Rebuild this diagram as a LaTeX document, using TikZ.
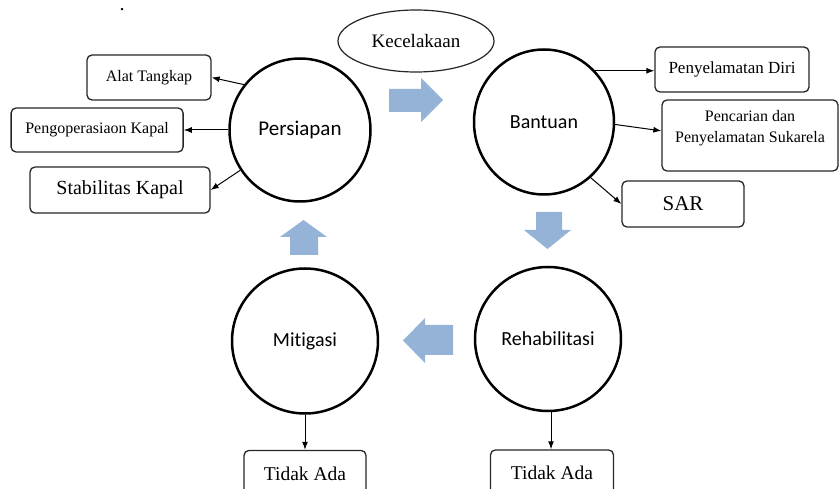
\documentclass[tikz,border=0pt]{standalone}
\usepackage{xcolor}
\usepackage{fontspec}
\setmainfont{Liberation Serif}
\newfontfamily\stagefont[Ligatures=NoCommon]{Carlito}
\usepackage{tikz}
\usetikzlibrary{arrows.meta,positioning,shapes.geometric}

\definecolor{flowblue}{RGB}{149,179,215}

\begin{document}
\begin{tikzpicture}[
    x=1pt, y=-1pt,
    box/.style={draw=black!85, rounded corners=5pt, line width=1.3pt, inner sep=3pt, align=center, font=\fontsize{16}{19}\selectfont},
    stage/.style={draw, ellipse, line width=2.5pt, inner sep=0pt, minimum width=144pt, minimum height=144pt, font=\stagefont\fontsize{20}{24}\selectfont},
    event/.style={draw=black!85, ellipse, line width=1.2pt, minimum width=156pt, minimum height=62pt, font=\fontsize{19}{23}\selectfont},
    arrow/.style={-{Latex[length=8pt,width=6pt]}, line width=1pt},
    flow/.style={fill=flowblue}
]
\useasboundingbox (0,0) rectangle (839,489);

\node[inner sep=0pt, font=\fontsize{20}{24}\selectfont] (dot) at (122,10) {.};

\node[event] (kecelakaan) at (416,41) {Kecelakaan};

\node[stage, minimum width=141pt, minimum height=143pt, font=\stagefont\fontsize{21}{24}\selectfont] (persiapan) at (300,130) {Persiapan};
\node[stage, minimum width=140pt, minimum height=145pt] (bantuan) at (544,122) {Bantuan};
\node[stage, minimum width=146pt, minimum height=145pt] (mitigasi) at (305,341) {Mitigasi};
\node[stage, minimum width=146pt, minimum height=144pt] (rehab) at (548,339) {Rehabilitasi};

% persiapan
\node[box, minimum width=124pt, minimum height=45pt] (alat) at (149,77.5) {Alat Tangkap};
\node[box, minimum width=172pt, minimum height=44pt, left=44.5pt of persiapan] (pengop) {Pengoperasiaon Kapal};
\node[box, minimum width=180pt, minimum height=46pt, font=\fontsize{20}{24}\selectfont] (stabil) at (120,190) {Stabilitas Kapal};

% bantuan
\node[box, minimum width=154pt, minimum height=45pt, font=\fontsize{17}{20}\selectfont] (diri) at (732,69.5) {Penyelamatan Diri};
\node[box, minimum width=176pt, minimum height=71pt, font=\fontsize{16}{21}\selectfont] (cari) at (750,135.5) {\rule{0pt}{19pt}Pencarian dan\\Penyelamatan Sukarela\rule[-25pt]{0pt}{0pt}};
\node[box, minimum width=122pt, minimum height=46pt, font=\fontsize{21}{24}\selectfont] (sar) at (683,204) {SAR};

% bawah
\node[box, minimum width=122pt, minimum height=46pt, font=\fontsize{19.5}{23}\selectfont, below=35pt of mitigasi] (tidak1) {Tidak Ada};
\node[box, minimum width=123pt, minimum height=46pt, font=\fontsize{19.5}{23}\selectfont, below=37pt of rehab, xshift=4pt] (tidak2) {Tidak Ada};

\draw[arrow] (persiapan.141) -- (alat.east);
\draw[arrow] (persiapan.west) -- (pengop.east);
\draw[arrow] (persiapan.214) -- (stabil.east);
\draw[arrow] (bantuan.45) -- (bantuan.45 -| diri.west);
\draw[arrow] (bantuan.-2) -- (cari.177);
\draw[arrow] (bantuan.-50) -- (sar.west);
\draw[arrow] (mitigasi.south) -- (tidak1.north);
\draw[arrow] ([xshift=3pt]rehab.south) -- ([xshift=3pt]rehab.south |- tidak2.north);

% panah siklus
\fill[flow] (389,89) -- (421,89) -- (421,78) -- (443,100) -- (421,122) -- (421,112) -- (389,112) -- cycle;
\fill[flow] (536,212) -- (562,212) -- (562,230) -- (571,230) -- (547.5,249) -- (524,230) -- (536,230) -- cycle;
\fill[flow] (453,325) -- (425,325) -- (425,318) -- (403,340.5) -- (425,363) -- (425,355) -- (453,355) -- cycle;
\fill[flow] (290,255) -- (290,237) -- (280,237) -- (303.5,220) -- (327,237) -- (318,237) -- (318,255) -- cycle;

\end{tikzpicture}
\end{document}
